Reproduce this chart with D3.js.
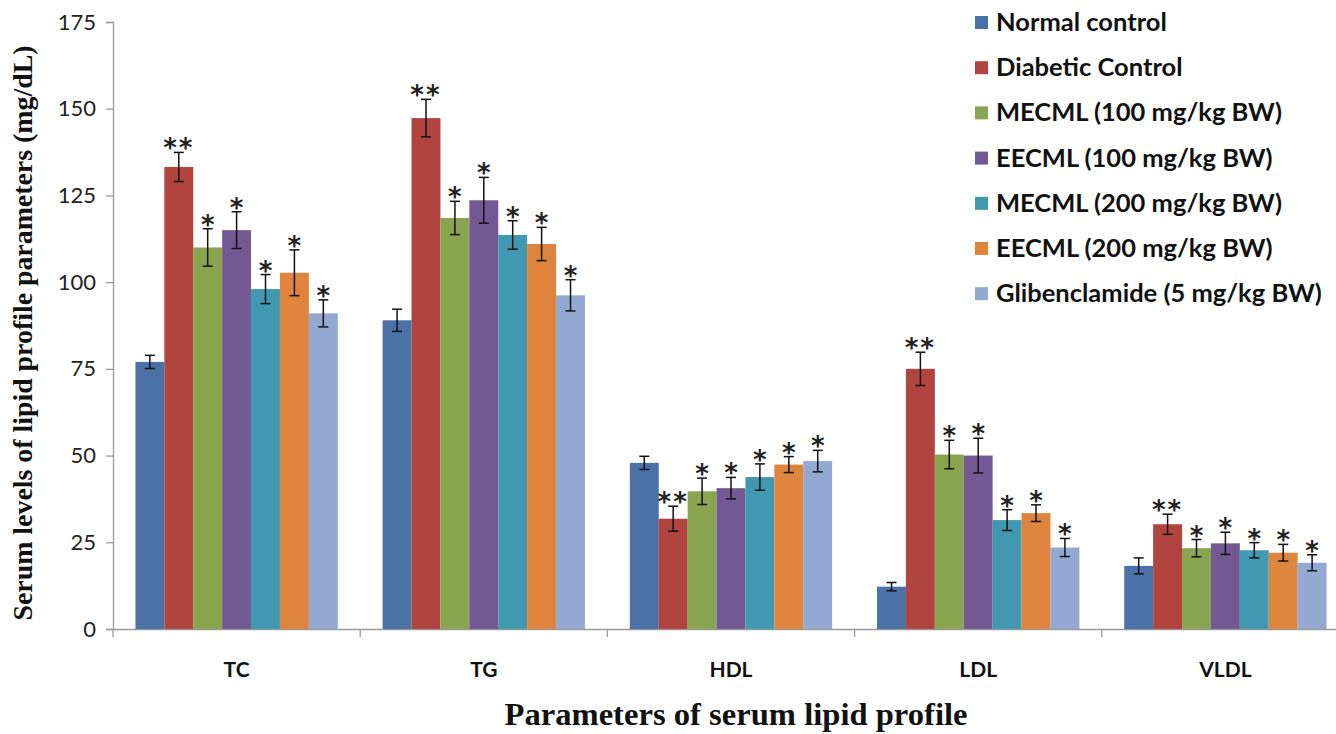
<!DOCTYPE html>
<html><head><meta charset="utf-8">
<script src="https://cdn.jsdelivr.net/npm/d3@7"></script>
<style>body{margin:0;background:#fff;}svg{display:block;}</style>
</head><body>
<script>
const categories = ["TC","TG","HDL","LDL","VLDL"];
const seriesNames = ["Normal control","Diabetic Control","MECML (100 mg/kg BW)","EECML (100 mg/kg BW)","MECML (200 mg/kg BW)","EECML (200 mg/kg BW)","Glibenclamide (5 mg/kg BW)"];
const colors = ["#4A72A6","#B2443F","#8AA54F","#745893","#4198B1","#DE843C","#93A9D1"];
// values per series, ordered by categories TC, TG, HDL, LDL, VLDL
const normalControl   = [77, 89, 47.9, 12.2, 18.2];
const diabeticControl = [133.2, 147.3, 31.8, 75, 30.2];
const mecml100        = [110, 118.5, 39.7, 50.3, 23.3];
const eecml100        = [115, 123.6, 40.6, 50, 24.7];
const mecml200        = [98, 113.6, 43.8, 31.4, 22.7];
const eecml200        = [102.7, 111, 47.4, 33.4, 22];
const glib5           = [91, 96.2, 48.4, 23.5, 19.1];
const normalErr   = [1.9, 3.2, 1.9, 1.2, 2.3];
const diabeticErr = [4.2, 5.4, 3.6, 4.8, 2.9];
const mecml100Err = [5.4, 4.8, 3.8, 4.1, 2.5];
const eecml100Err = [5.3, 6.6, 3.1, 5.0, 3.2];
const mecml200Err = [4.2, 4.1, 3.8, 3.0, 2.2];
const eecml200Err = [6.6, 4.8, 2.3, 2.4, 2.4];
const glib5Err    = [3.9, 4.5, 3.1, 2.6, 2.3];
const significance = ["", "**", "*", "*", "*", "*", "*"];
const yTicks = [0,25,50,75,100,125,150,175];

const values = [normalControl, diabeticControl, mecml100, eecml100, mecml200, eecml200, glib5];
const errors = [normalErr, diabeticErr, mecml100Err, eecml100Err, mecml200Err, eecml200Err, glib5Err];

const W = 1336, H = 734;
const svg = d3.select("body").append("svg").attr("width", W).attr("height", H);

const x0 = d3.scaleBand().domain(categories).range([113, 1349]).paddingInner(0).paddingOuter(0);
const x1 = d3.scaleBand().domain(d3.range(seriesNames.length)).range([0, x0.bandwidth()]).paddingInner(0).paddingOuter(0.776);
const y = d3.scaleLinear().domain([0, 175]).range([629, 22]);

// y axis
const yAxis = svg.append("g").attr("transform", "translate(113,0)")
  .call(d3.axisLeft(y).tickValues(yTicks).tickSize(7).tickPadding(10));
yAxis.select(".domain").attr("stroke", "#9a9a9a").attr("stroke-width", 1.3);
yAxis.selectAll(".tick line").attr("stroke", "#9a9a9a").attr("stroke-width", 1.3);
yAxis.selectAll(".tick text").attr("font-family", "Lato, 'Open Sans', sans-serif").attr("font-size", 22).attr("fill", "#222");

// x axis
const xAxis = svg.append("g").attr("transform", "translate(0,629)")
  .call(d3.axisBottom(x0).tickSize(0).tickPadding(33));
xAxis.select(".domain").attr("stroke", "#9a9a9a").attr("stroke-width", 1.3);
xAxis.selectAll(".tick text").attr("font-family", "Lato, 'Open Sans', sans-serif").attr("font-size", 21).attr("font-weight", "bold").attr("fill", "#111");
const boundaries = categories.map(c => x0(c));
xAxis.selectAll(".bline").data(boundaries).enter().append("line")
  .attr("x1", d => d).attr("x2", d => d).attr("y1", 0).attr("y2", 8)
  .attr("stroke", "#9a9a9a").attr("stroke-width", 1.3);

// bars
const groups = svg.append("g").selectAll("g").data(categories).enter().append("g")
  .attr("transform", d => `translate(${x0(d)},0)`);
groups.each(function(cat, ci) {
  const g = d3.select(this);
  seriesNames.forEach((s, si) => {
    const v = values[si][ci], e = errors[si][ci];
    const bx = x1(si), bw = x1.bandwidth();
    g.append("rect").attr("x", bx).attr("y", y(v)).attr("width", bw).attr("height", y(0) - y(v)).attr("fill", colors[si]);
    const cx = bx + bw / 2;
    g.append("line").attr("x1", cx).attr("x2", cx).attr("y1", y(v + e)).attr("y2", y(v - e)).attr("stroke", "#111").attr("stroke-width", 1.5);
    [v + e, v - e].forEach(t => {
      g.append("line").attr("x1", cx - 5).attr("x2", cx + 5).attr("y1", y(t)).attr("y2", y(t)).attr("stroke", "#111").attr("stroke-width", 1.5);
    });
    if (significance[si]) {
      g.append("text").attr("x", cx).attr("y", y(v + e) + 5).attr("text-anchor", "middle")
        .attr("font-family", "'DejaVu Sans', sans-serif").attr("font-size", 26).attr("font-weight", "bold").attr("fill", "#222")
        .attr("letter-spacing", significance[si].length > 1 ? 2 : 0)
        .text(significance[si]);
    }
  });
});

// legend
const legend = svg.append("g");
seriesNames.forEach((s, i) => {
  const ly = 22 + i * 45.2;
  legend.append("rect").attr("x", 975).attr("y", ly - 6).attr("width", 13).attr("height", 13).attr("fill", colors[i]);
  legend.append("text").attr("x", 996).attr("y", ly + 9).attr("font-family", "Lato, 'Open Sans', sans-serif")
    .attr("font-weight", "bold").attr("font-size", 25.5).attr("fill", "#111").text(s);
});

// axis titles
svg.append("text").attr("transform", "translate(32,333) rotate(-90)").attr("text-anchor", "middle")
  .attr("font-family", "'Liberation Serif', 'Times New Roman', serif").attr("font-weight", "bold").attr("font-size", 28).attr("fill", "#111")
  .attr("textLength", 575).attr("lengthAdjust", "spacingAndGlyphs")
  .text("Serum levels of lipid profile parameters (mg/dL)");
svg.append("text").attr("x", 736).attr("y", 725).attr("text-anchor", "middle")
  .attr("font-family", "'Liberation Serif', 'Times New Roman', serif").attr("font-weight", "bold").attr("font-size", 32).attr("fill", "#111")
  .attr("textLength", 463).attr("lengthAdjust", "spacingAndGlyphs")
  .text("Parameters of serum lipid profile");
</script>
</body></html>
